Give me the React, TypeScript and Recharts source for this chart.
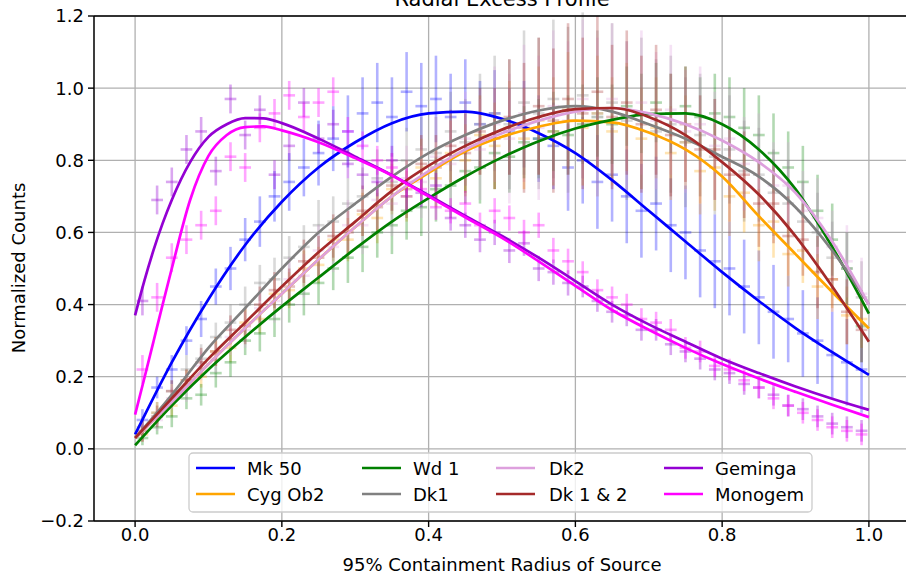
import React from 'react'
import {
  ComposedChart,
  Line,
  Scatter,
  ErrorBar,
  XAxis,
  YAxis,
  CartesianGrid,
  ReferenceLine,
} from 'recharts'

// bin centres of the radial profiles
const binX = [
  0.01, 0.03, 0.05, 0.07, 0.09, 0.11, 0.13, 0.15, 0.17, 0.19,
  0.21, 0.23, 0.25, 0.27, 0.29, 0.31, 0.33, 0.35, 0.37, 0.39,
  0.41, 0.43, 0.45, 0.47, 0.49, 0.51, 0.53, 0.55, 0.57, 0.59,
  0.61, 0.63, 0.65, 0.67, 0.69, 0.71, 0.73, 0.75, 0.77, 0.79,
  0.81, 0.83, 0.85, 0.87, 0.89, 0.91, 0.93, 0.95, 0.97, 0.99,
]
const binHalfWidth = 0.008

// x grid of the fitted curves
const fitX = [0, 0.05, 0.1, 0.15, 0.2, 0.25, 0.3, 0.35, 0.4, 0.45, 0.5, 0.55, 0.6, 0.65, 0.7, 0.75, 0.8, 0.85, 0.9, 0.95, 1.0]
const fitFineX = [0, 0.0125, 0.025, 0.0375, 0.05, 0.075, 0.1, 0.125, 0.15, 0.175, 0.2, 0.25, 0.3, 0.35, 0.4, 0.45, 0.5, 0.55, 0.6, 0.65, 0.7, 0.75, 0.8, 0.85, 0.9, 0.95, 1.0]

const xTicks = [0, 0.2, 0.4, 0.6, 0.8, 1.0]
const yTicks = [-0.2, 0, 0.2, 0.4, 0.6, 0.8, 1.0, 1.2]

// Mk 50
const mk50Fit = [0.04, 0.24, 0.415, 0.565, 0.685, 0.78, 0.85, 0.903, 0.93, 0.935, 0.915, 0.875, 0.82, 0.745, 0.66, 0.575, 0.49, 0.41, 0.335, 0.268, 0.205]
const mk50Pts = [
  0.08, 0.17, 0.22, 0.30, 0.36, 0.45, 0.50, 0.58, 0.63, 0.70,
  0.74, 0.78, 0.82, 0.86, 0.88, 0.93, 0.96, 0.92, 0.99, 0.95,
  0.97, 0.92, 0.96, 0.90, 0.93, 0.88, 0.90, 0.86, 0.84, 0.78,
  0.80, 0.74, 0.76, 0.70, 0.66, 0.68, 0.62, 0.60, 0.55, 0.52,
  0.50, 0.45, 0.42, 0.38, 0.36, 0.32, 0.30, 0.26, 0.24, 0.22,
]
const mk50Err = [
  0.03, 0.03, 0.04, 0.04, 0.05, 0.05, 0.06, 0.06, 0.07, 0.07,
  0.08, 0.08, 0.09, 0.09, 0.10, 0.10, 0.11, 0.11, 0.11, 0.12,
  0.12, 0.12, 0.12, 0.12, 0.12, 0.12, 0.12, 0.12, 0.12, 0.12,
  0.12, 0.13, 0.13, 0.13, 0.13, 0.13, 0.13, 0.13, 0.13, 0.13,
  0.13, 0.13, 0.13, 0.13, 0.12, 0.12, 0.12, 0.12, 0.12, 0.12,
]

// Cyg Ob2
const cygFit = [0.03, 0.13, 0.235, 0.335, 0.43, 0.525, 0.615, 0.70, 0.765, 0.825, 0.865, 0.893, 0.91, 0.905, 0.877, 0.83, 0.755, 0.645, 0.54, 0.435, 0.334]
const cygPts = [
  0.04, 0.10, 0.12, 0.19, 0.20, 0.27, 0.28, 0.35, 0.36, 0.43,
  0.44, 0.50, 0.51, 0.58, 0.58, 0.65, 0.64, 0.72, 0.70, 0.78,
  0.75, 0.82, 0.80, 0.87, 0.84, 0.89, 0.86, 0.91, 0.88, 0.94,
  0.89, 0.93, 0.88, 0.92, 0.86, 0.89, 0.82, 0.85, 0.77, 0.78,
  0.70, 0.71, 0.62, 0.63, 0.54, 0.55, 0.45, 0.47, 0.37, 0.36,
]
const cygErr = [
  0.02, 0.03, 0.03, 0.03, 0.03, 0.04, 0.04, 0.04, 0.04, 0.05,
  0.05, 0.05, 0.05, 0.06, 0.06, 0.06, 0.07, 0.07, 0.07, 0.08,
  0.08, 0.09, 0.10, 0.11, 0.12, 0.13, 0.14, 0.15, 0.15, 0.16,
  0.16, 0.16, 0.15, 0.15, 0.14, 0.14, 0.13, 0.13, 0.12, 0.12,
  0.11, 0.11, 0.10, 0.10, 0.09, 0.09, 0.09, 0.08, 0.08, 0.08,
]

// Wd 1
const wd1Fit = [0.01, 0.12, 0.22, 0.31, 0.395, 0.475, 0.555, 0.63, 0.695, 0.755, 0.808, 0.853, 0.888, 0.912, 0.928, 0.93, 0.9, 0.83, 0.72, 0.56, 0.375]
const wd1Pts = [
  0.03, 0.06, 0.09, 0.14, 0.15, 0.21, 0.24, 0.30, 0.32, 0.36,
  0.40, 0.43, 0.46, 0.50, 0.53, 0.56, 0.60, 0.62, 0.66, 0.67,
  0.72, 0.73, 0.77, 0.78, 0.82, 0.81, 0.85, 0.86, 0.88, 0.87,
  0.90, 0.92, 0.90, 0.95, 0.93, 0.96, 0.93, 0.95, 0.92, 0.93,
  0.92, 0.89, 0.87, 0.82, 0.78, 0.74, 0.66, 0.58, 0.50, 0.34,
]
const wd1Err = [
  0.02, 0.02, 0.03, 0.03, 0.03, 0.04, 0.04, 0.04, 0.05, 0.05,
  0.05, 0.06, 0.06, 0.06, 0.07, 0.07, 0.07, 0.08, 0.08, 0.08,
  0.09, 0.09, 0.09, 0.10, 0.10, 0.10, 0.10, 0.11, 0.11, 0.11,
  0.11, 0.11, 0.11, 0.11, 0.11, 0.11, 0.11, 0.11, 0.11, 0.11,
  0.11, 0.11, 0.11, 0.11, 0.10, 0.10, 0.10, 0.10, 0.10, 0.10,
]

// Dk1
const dk1Fit = [0.03, 0.15, 0.28, 0.39, 0.50, 0.60, 0.68, 0.755, 0.82, 0.87, 0.91, 0.938, 0.95, 0.935, 0.90, 0.86, 0.81, 0.755, 0.67, 0.55, 0.40]
const dk1Pts = [
  0.06, 0.10, 0.16, 0.22, 0.25, 0.31, 0.35, 0.40, 0.46, 0.47,
  0.53, 0.56, 0.62, 0.63, 0.68, 0.70, 0.75, 0.74, 0.80, 0.83,
  0.82, 0.88, 0.85, 0.90, 0.93, 0.90, 0.96, 0.93, 0.97, 0.94,
  0.98, 0.93, 0.96, 0.91, 0.93, 0.88, 0.90, 0.85, 0.87, 0.81,
  0.83, 0.77, 0.76, 0.71, 0.68, 0.63, 0.60, 0.53, 0.50, 0.42,
]
const dk1Err = [
  0.03, 0.03, 0.03, 0.04, 0.04, 0.04, 0.05, 0.05, 0.05, 0.06,
  0.06, 0.06, 0.07, 0.07, 0.07, 0.08, 0.08, 0.08, 0.09, 0.09,
  0.10, 0.11, 0.12, 0.14, 0.16, 0.18, 0.20, 0.21, 0.22, 0.23,
  0.23, 0.23, 0.22, 0.22, 0.21, 0.20, 0.19, 0.18, 0.17, 0.16,
  0.15, 0.14, 0.13, 0.12, 0.12, 0.11, 0.11, 0.10, 0.10, 0.10,
]

// Dk2
const dk2Fit = [0.03, 0.13, 0.235, 0.335, 0.43, 0.525, 0.615, 0.70, 0.77, 0.83, 0.875, 0.91, 0.935, 0.945, 0.93, 0.90, 0.855, 0.795, 0.71, 0.575, 0.40]
const dk2Pts = [
  0.05, 0.08, 0.14, 0.17, 0.23, 0.25, 0.31, 0.33, 0.39, 0.41,
  0.47, 0.48, 0.55, 0.56, 0.62, 0.62, 0.69, 0.68, 0.75, 0.74,
  0.81, 0.79, 0.86, 0.83, 0.90, 0.86, 0.93, 0.89, 0.95, 0.91,
  0.97, 0.92, 0.97, 0.92, 0.96, 0.91, 0.94, 0.88, 0.90, 0.84,
  0.86, 0.79, 0.80, 0.73, 0.73, 0.66, 0.64, 0.56, 0.52, 0.43,
]
const dk2Err = [
  0.03, 0.03, 0.03, 0.04, 0.04, 0.04, 0.05, 0.05, 0.05, 0.06,
  0.06, 0.06, 0.07, 0.07, 0.07, 0.08, 0.08, 0.09, 0.09, 0.10,
  0.11, 0.12, 0.13, 0.14, 0.16, 0.18, 0.19, 0.20, 0.21, 0.22,
  0.22, 0.22, 0.21, 0.21, 0.20, 0.19, 0.18, 0.17, 0.16, 0.15,
  0.14, 0.13, 0.13, 0.12, 0.12, 0.11, 0.11, 0.10, 0.10, 0.10,
]

// Dk 1 & 2
const dk12Fit = [0.03, 0.14, 0.25, 0.35, 0.45, 0.545, 0.63, 0.715, 0.785, 0.84, 0.885, 0.92, 0.942, 0.945, 0.92, 0.87, 0.795, 0.705, 0.59, 0.45, 0.297]
const dk12Pts = [
  0.05, 0.09, 0.16, 0.19, 0.24, 0.27, 0.33, 0.34, 0.40, 0.44,
  0.45, 0.52, 0.53, 0.59, 0.60, 0.66, 0.67, 0.73, 0.72, 0.79,
  0.78, 0.84, 0.82, 0.88, 0.86, 0.92, 0.89, 0.95, 0.91, 0.97,
  0.93, 0.99, 0.92, 0.96, 0.90, 0.94, 0.87, 0.90, 0.83, 0.83,
  0.76, 0.76, 0.68, 0.68, 0.59, 0.58, 0.49, 0.47, 0.38, 0.33,
]
const dk12Err = [
  0.03, 0.03, 0.03, 0.03, 0.04, 0.04, 0.04, 0.05, 0.05, 0.05,
  0.05, 0.06, 0.06, 0.06, 0.06, 0.07, 0.07, 0.07, 0.08, 0.08,
  0.09, 0.10, 0.11, 0.12, 0.14, 0.16, 0.18, 0.19, 0.20, 0.21,
  0.21, 0.21, 0.20, 0.20, 0.19, 0.18, 0.17, 0.16, 0.15, 0.14,
  0.13, 0.12, 0.12, 0.11, 0.11, 0.10, 0.10, 0.09, 0.09, 0.09,
]

// Geminga
const gemFit = [0.37, 0.465, 0.55, 0.625, 0.69, 0.795, 0.865, 0.90, 0.917, 0.916, 0.903, 0.86, 0.81, 0.759, 0.703, 0.646, 0.59, 0.53, 0.465, 0.40, 0.345, 0.297, 0.25, 0.21, 0.173, 0.139, 0.108]
const gemPts = [
  0.41, 0.69, 0.74, 0.83, 0.88, 0.77, 0.97, 0.87, 0.94, 0.76,
  0.84, 0.96, 0.86, 0.90, 0.79, 0.76, 0.74, 0.80, 0.70, 0.71,
  0.73, 0.64, 0.62, 0.58, 0.60, 0.55, 0.57, 0.50, 0.49, 0.46,
  0.45, 0.41, 0.38, 0.37, 0.33, 0.33, 0.29, 0.27, 0.25, 0.22,
  0.21, 0.18, 0.17, 0.15, 0.12, 0.11, 0.09, 0.07, 0.06, 0.05,
]
const gemErr = [
  0.04, 0.04, 0.04, 0.04, 0.04, 0.04, 0.04, 0.04, 0.04, 0.04,
  0.04, 0.04, 0.04, 0.04, 0.04, 0.04, 0.04, 0.04, 0.04, 0.04,
  0.035, 0.035, 0.035, 0.035, 0.035, 0.035, 0.035, 0.035, 0.035, 0.035,
  0.03, 0.03, 0.03, 0.03, 0.03, 0.03, 0.03, 0.03, 0.03, 0.03,
  0.03, 0.03, 0.03, 0.03, 0.03, 0.03, 0.03, 0.03, 0.03, 0.03,
]

// Monogem
const monoFit = [0.095, 0.195, 0.297, 0.40, 0.50, 0.69, 0.812, 0.87, 0.892, 0.894, 0.883, 0.85, 0.806, 0.758, 0.70, 0.642, 0.585, 0.52, 0.452, 0.385, 0.33, 0.28, 0.235, 0.195, 0.158, 0.122, 0.088]
const monoPts = [
  0.22, 0.42, 0.53, 0.58, 0.62, 0.66, 0.81, 0.78, 0.89, 0.93,
  0.98, 0.92, 0.96, 0.99, 0.88, 0.84, 0.80, 0.78, 0.74, 0.72,
  0.67, 0.66, 0.68, 0.62, 0.66, 0.64, 0.60, 0.62, 0.55, 0.52,
  0.49, 0.44, 0.42, 0.40, 0.36, 0.35, 0.33, 0.28, 0.27, 0.23,
  0.22, 0.19, 0.17, 0.14, 0.12, 0.10, 0.08, 0.06, 0.05, 0.04,
]
const monoErr = [
  0.04, 0.04, 0.04, 0.04, 0.04, 0.04, 0.04, 0.04, 0.04, 0.04,
  0.04, 0.04, 0.04, 0.04, 0.04, 0.04, 0.04, 0.04, 0.04, 0.04,
  0.035, 0.035, 0.035, 0.035, 0.035, 0.035, 0.035, 0.035, 0.035, 0.035,
  0.03, 0.03, 0.03, 0.03, 0.03, 0.03, 0.03, 0.03, 0.03, 0.03,
  0.03, 0.03, 0.03, 0.03, 0.03, 0.03, 0.03, 0.03, 0.03, 0.03,
]

const series = [
  { name: 'Mk 50', color: '#0000ff', fx: fitX, fit: mk50Fit, pts: mk50Pts, err: mk50Err, alpha: 0.3 },
  { name: 'Cyg Ob2', color: '#ffa500', fx: fitX, fit: cygFit, pts: cygPts, err: cygErr, alpha: 0.3 },
  { name: 'Wd 1', color: '#008000', fx: fitX, fit: wd1Fit, pts: wd1Pts, err: wd1Err, alpha: 0.3 },
  { name: 'Dk1', color: '#808080', fx: fitX, fit: dk1Fit, pts: dk1Pts, err: dk1Err, alpha: 0.3 },
  { name: 'Dk2', color: '#dda0dd', fx: fitX, fit: dk2Fit, pts: dk2Pts, err: dk2Err, alpha: 0.3 },
  { name: 'Dk 1 & 2', color: '#a52a2a', fx: fitX, fit: dk12Fit, pts: dk12Pts, err: dk12Err, alpha: 0.3 },
  { name: 'Geminga', color: '#9400d3', fx: fitFineX, fit: gemFit, pts: gemPts, err: gemErr, alpha: 0.35 },
  { name: 'Monogem', color: '#ff00ff', fx: fitFineX, fit: monoFit, pts: monoPts, err: monoErr, alpha: 0.35 },
]

const font = 'DejaVu Sans'

const rgba = (hex: string, a: number) => {
  const n = parseInt(hex.slice(1), 16)
  return `rgba(${(n >> 16) & 255},${(n >> 8) & 255},${n & 255},${a})`
}

const fmt = (v: number) => (v < 0 ? '\u2212' : '') + Math.abs(v).toFixed(1)

// legend layout (column-major, 2 rows)
const legLineX = [196, 362, 496, 664]
const legTextX = [247, 413, 549, 715]
const legRowY = [468, 494]

export default function App() {
  return (
    <div
      style={{
        position: 'absolute',
        left: 0,
        top: 0,
        width: 906,
        height: 576,
        overflow: 'hidden',
        background: '#fff',
        fontFamily: font,
      }}
    >
      <ComposedChart width={912} height={576} margin={{ top: 16, right: 2, bottom: 0, left: 0 }}>
        <CartesianGrid stroke="#b0b0b0" strokeWidth={1.3} />
        <XAxis
          type="number"
          dataKey="x"
          domain={[-0.056, 1.056]}
          ticks={xTicks}
          allowDataOverflow
          height={55}
          tickFormatter={fmt}
          tick={{ fill: '#000', fontSize: 18, fontFamily: font }}
          tickSize={6}
          tickMargin={1}
          axisLine={{ stroke: '#000', strokeWidth: 1.4 }}
          tickLine={{ stroke: '#000', strokeWidth: 1.4 }}
        />
        <YAxis
          type="number"
          domain={[-0.2, 1.2]}
          ticks={yTicks}
          allowDataOverflow
          width={94}
          tickFormatter={fmt}
          tick={{ fill: '#000', fontSize: 18, fontFamily: font }}
          tickSize={6}
          tickMargin={4}
          axisLine={{ stroke: '#000', strokeWidth: 1.4 }}
          tickLine={{ stroke: '#000', strokeWidth: 1.4 }}
        />
        {series.map((s) => (
          <Scatter
            key={'pts-' + s.name}
            name={s.name}
            data={binX.map((x, i) => ({ x, y: s.pts[i], ex: binHalfWidth, ey: s.err[i] }))}
            dataKey="y"
            shape={() => <g />}
            isAnimationActive={false}
          >
            <ErrorBar dataKey="ey" direction="y" width={0} stroke={rgba(s.color, s.alpha)} strokeWidth={2.6} isAnimationActive={false} />
            <ErrorBar dataKey="ex" direction="x" width={0} stroke={rgba(s.color, s.alpha)} strokeWidth={2.6} isAnimationActive={false} />
          </Scatter>
        ))}
        {series.map((s) => (
          <Line
            key={'fit-' + s.name}
            name={s.name}
            data={s.fx.map((x, i) => ({ x, y: s.fit[i] }))}
            dataKey="y"
            type="monotone"
            stroke={s.color}
            strokeWidth={2.7}
            dot={false}
            activeDot={false}
            zIndex={700}
            isAnimationActive={false}
          />
        ))}
        <ReferenceLine y={1.2} stroke="#000" strokeWidth={1.4} />
      </ComposedChart>

      <svg
        width={906}
        height={576}
        style={{ position: 'absolute', left: 0, top: 0, pointerEvents: 'none' }}
        fontFamily={font}
      >
        <text x={502} y={6} textAnchor="middle" fontSize={21} fill="#000">
          Radial Excess Profile
        </text>
        <text x={502} y={571} textAnchor="middle" fontSize={18} fill="#000">
          95% Containment Radius of Source
        </text>
        <text transform="translate(25,268) rotate(-90)" textAnchor="middle" fontSize={18} fill="#000">
          Normalized Counts
        </text>
        <rect x={189} y={453} width={623} height={59} rx={4} fill="rgba(255,255,255,0.8)" stroke="#cccccc" strokeWidth={1.3} />
        {series.map((s, i) => {
          const col = Math.floor(i / 2)
          const row = i % 2
          return (
            <g key={'leg-' + s.name}>
              <line x1={legLineX[col]} x2={legLineX[col] + 39} y1={legRowY[row]} y2={legRowY[row]} stroke={s.color} strokeWidth={2.6} />
              <text x={legTextX[col]} y={legRowY[row] + 6.5} fontSize={18} fill="#000">
                {s.name}
              </text>
            </g>
          )
        })}
      </svg>
    </div>
  )
}
